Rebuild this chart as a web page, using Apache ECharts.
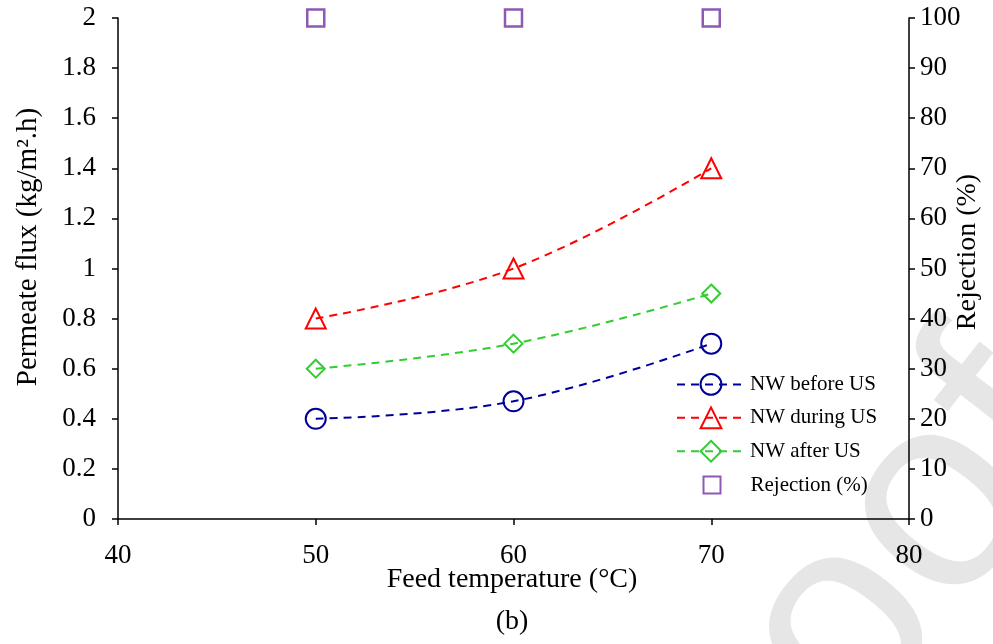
<!DOCTYPE html>
<html>
<head>
<meta charset="utf-8">
<script src="https://cdn.jsdelivr.net/npm/echarts@6/dist/echarts.min.js"></script>
<style>
html,body{margin:0;padding:0;background:#fff;}
#chart{width:993px;height:644px;}
</style>
</head>
<body>
<div id="chart"></div>
<script>
// Data
const temperatures = [50, 60, 70];
const nwBeforeUS = [0.40, 0.47, 0.70];
const nwDuringUS = [0.80, 1.00, 1.40];
const nwAfterUS = [0.60, 0.70, 0.90];
const rejection = [100, 100, 100];
const seriesNames = ['NW before US', 'NW during US', 'NW after US', 'Rejection (%)'];

const FONT = 'Liberation Serif';
const pairs = (ys) => temperatures.map((t, i) => [t, ys[i]]);

function lineSeries(name, ys, color, symbol, size) {
  return {
    name: name,
    type: 'line',
    data: pairs(ys),
    smooth: 0.4,
    symbol: symbol,
    symbolSize: size,
    lineStyle: { color: color, width: 2, type: [8, 6] },
    itemStyle: { color: 'rgba(255,255,255,0)', borderColor: color, borderWidth: 2 },
    z: 3
  };
}

const chart = echarts.init(document.getElementById('chart'), null, { renderer: 'canvas' });
const axisLine = { show: true, lineStyle: { color: '#000', width: 1.5 } };
const axisTick = { show: true, length: 6, lineStyle: { color: '#000', width: 1.5 } };

function label(text, x, y, size, rotation) {
  return {
    type: 'text', x: x, y: y, rotation: rotation || 0,
    style: {
      text: text, font: size + 'px "Liberation Serif"', fill: '#000',
      textAlign: 'center', textVerticalAlign: 'middle'
    }
  };
}

chart.setOption({
  animation: false,
  backgroundColor: '#fff',
  textStyle: { fontFamily: FONT },
  grid: { left: 118, right: 84, top: 18, bottom: 125, containLabel: false, outerBoundsMode: 'none' },
  graphic: [
    {
      type: 'text',
      x: 872, y: 594,
      rotation: 52 * Math.PI / 180,
      z: -10,
      silent: true,
      style: {
        text: 'Proofs',
        font: '280px "Liberation Sans"',
        fill: '#e6e6e6',
        textAlign: 'center',
        textVerticalAlign: 'middle'
      }
    },
    label('Permeate flux (kg/m\u00B2.h)', 28, 247, 29, Math.PI / 2),
    label('Rejection (%)', 968, 252, 28, Math.PI / 2),
    label('Feed temperature (\u00B0C)', 512, 580, 28, 0),
    label('(b)', 512, 622, 28, 0)
  ],
  legend: [
    {
      left: 671,
      top: 368,
      orient: 'vertical',
      itemWidth: 68,
      itemHeight: 26,
      itemGap: 10.6,
      data: seriesNames.slice(0, 3),
      textStyle: { fontFamily: FONT, fontSize: 21, color: '#000' }
    },
    {
      left: 697.5,
      top: 469.5,
      orient: 'vertical',
      itemWidth: 17,
      itemHeight: 17,
      data: [seriesNames[3]],
      textStyle: { fontFamily: FONT, fontSize: 21, color: '#000', padding: [0, 0, 0, 25] }
    }
  ],
  xAxis: {
    type: 'value',
    min: 40, max: 80, interval: 10,
    axisLine: axisLine,
    axisTick: axisTick,
    splitLine: { show: false },
    axisLabel: { fontFamily: FONT, fontSize: 27, color: '#000', margin: 23 }
  },
  yAxis: [
    {
      type: 'value',
      position: 'left',
      min: 0, max: 2, interval: 0.2,
      axisLine: axisLine,
      axisTick: axisTick,
      splitLine: { show: false },
      axisLabel: { fontFamily: FONT, fontSize: 27, color: '#000', margin: 22 }
    },
    {
      type: 'value',
      position: 'right',
      min: 0, max: 100, interval: 10,
      axisLine: axisLine,
      axisTick: axisTick,
      splitLine: { show: false },
      axisLabel: { fontFamily: FONT, fontSize: 27, color: '#000', margin: 11 }
    }
  ],
  series: [
    lineSeries(seriesNames[0], nwBeforeUS, '#000099', 'circle', 20),
    lineSeries(seriesNames[1], nwDuringUS, '#ff0000', 'triangle', 20),
    lineSeries(seriesNames[2], nwAfterUS, '#33cc33', 'diamond', 18),
    {
      name: seriesNames[3],
      type: 'scatter',
      yAxisIndex: 1,
      data: pairs(rejection),
      symbol: 'rect',
      symbolSize: 17,
      itemStyle: { color: 'rgba(255,255,255,0)', borderColor: '#7030a0', borderWidth: 2.5 },
      z: 3
    }
  ]
});
</script>
</body>
</html>
